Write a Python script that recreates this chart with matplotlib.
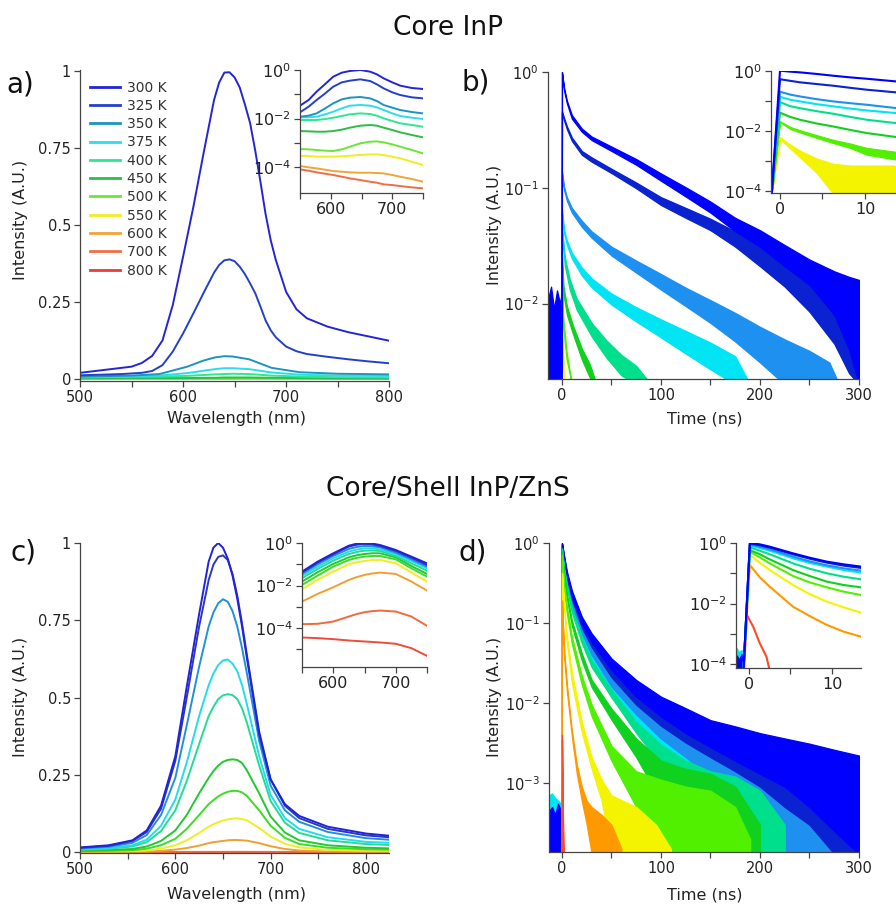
import matplotlib
matplotlib.use("Agg")
import matplotlib.pyplot as plt
from matplotlib.ticker import FixedLocator, NullFormatter, NullLocator, MultipleLocator
from matplotlib.lines import Line2D

plt.rcParams['font.family'] = ['DejaVu Sans']

# ------------------------------------------------------------------ data
temps = ['300 K', '325 K', '350 K', '375 K', '400 K', '450 K',
         '500 K', '550 K', '600 K', '700 K', '800 K']
spec_colors = ['#2424d8', '#2540c8', '#1c94c0', '#2cdcec', '#2ce890', '#2cbc48',
               '#68e834', '#eeee22', '#f2a438', '#f26c44', '#ec3a36']
decay_colors = ['#0000ff', '#0a22d0', '#1e90f0', '#00e4f4', '#00e08c', '#10d020',
                '#50f000', '#f4f400', '#ff9900', '#ff4a24', '#ff2a1a']
c_colors = ['#2222d8', '#2a36c8', '#2090dc', '#22dcec', '#22dc96', '#22c832',
            '#3cdc22', '#eeee22', '#f0a030', '#f06a3c', '#f04a3a']

# panel a, main (linear PL spectra, core InP)
wl_a = [500, 520, 540, 550, 560, 570, 580, 590, 600, 610, 620,
        630, 635, 640, 645, 650, 655, 660, 665, 670, 675, 680, 685, 690,
        700, 710, 720, 740, 760, 780, 800]
a_300 = [0.020, 0.028, 0.036, 0.040, 0.052, 0.075, 0.125, 0.240, 0.397, 0.559, 0.735,
         0.905, 0.962, 0.994, 0.995, 0.978, 0.945, 0.890, 0.830, 0.740, 0.640, 0.535, 0.450, 0.385,
         0.282, 0.226, 0.197, 0.170, 0.152, 0.138, 0.124]
a_325 = [0.012, 0.014, 0.016, 0.018, 0.020, 0.026, 0.045, 0.089, 0.148, 0.213, 0.280,
         0.345, 0.370, 0.385, 0.388, 0.382, 0.364, 0.340, 0.310, 0.278, 0.235, 0.190, 0.158, 0.135,
         0.105, 0.090, 0.081, 0.072, 0.064, 0.057, 0.051]
wl_a_low = [500, 550, 577, 604, 620, 631, 640, 648, 664, 686, 713, 750, 800]
a_350 = [0.008, 0.011, 0.016, 0.040, 0.060, 0.070, 0.074, 0.073, 0.064, 0.036, 0.022, 0.017, 0.015]
a_375 = [0.006, 0.009, 0.011, 0.019, 0.027, 0.032, 0.035, 0.035, 0.032, 0.021, 0.014, 0.011, 0.010]
a_400 = [0.005, 0.007, 0.008, 0.010, 0.013, 0.015, 0.016, 0.017, 0.016, 0.011, 0.008, 0.006, 0.005]
a_450 = [0.002, 0.003, 0.003, 0.003, 0.004, 0.004, 0.005, 0.005, 0.005, 0.004, 0.003, 0.002, 0.0015]
a_500 = [0.0006, 0.0006, 0.0005, 0.0005, 0.0006, 0.0007, 0.0008, 0.0009, 0.0011, 0.0010, 0.0007, 0.0004, 0.0003]
a_550 = [0.0003, 0.0003, 0.0003, 0.0003, 0.0003, 0.0003, 0.0003, 0.0003, 0.0003, 0.0003, 0.0002, 0.0001, 0.0001]
a_600 = [0.0001, 0.0001, 0.0001, 0.0001, 0.0001, 0.0001, 0.0001, 0.0001, 0.0001, 0.0001, 0.00004, 0.00003, 0.00002]
a_700 = [0.0001, 0.00008, 0.00006, 0.00005, 0.00004, 0.00004, 0.00003, 0.00003, 0.00003, 0.00002, 0.00002, 0.00001, 0.00001]
a_800 = [0.00008, 0.00006, 0.00005, 0.00004, 0.00003, 0.00003, 0.00003, 0.00002, 0.00002, 0.00002, 0.00001, 0.00001, 0.00001]

# panel a, inset (log)
wl_ai = [550, 564, 577, 591, 604, 618, 631, 648, 664, 675, 686, 700, 713, 732, 750]
ai_300 = [0.0338, 0.058, 0.128, 0.265, 0.531, 0.776, 0.910, 1.0, 0.854, 0.663, 0.453, 0.310, 0.226, 0.181, 0.165]
ai_325 = [0.0180, 0.0308, 0.058, 0.109, 0.205, 0.310, 0.363, 0.412, 0.352, 0.256, 0.175, 0.120, 0.093, 0.0746, 0.0679]
ai_350 = [0.0119, 0.0131, 0.0163, 0.0262, 0.0422, 0.0617, 0.0723, 0.077, 0.0679, 0.0527, 0.036, 0.028, 0.0224, 0.0185, 0.0163]
ai_375 = [0.0112, 0.0112, 0.0119, 0.0149, 0.0191, 0.0262, 0.0338, 0.036, 0.0338, 0.0289, 0.0224, 0.0163, 0.0127, 0.0108, 0.00953]
ai_400 = [0.00867, 0.00867, 0.00867, 0.00953, 0.0108, 0.0127, 0.0149, 0.0163, 0.0153, 0.0131, 0.0102, 0.00789, 0.00632, 0.0054, 0.0046]
ai_450 = [0.00305, 0.00296, 0.00286, 0.00286, 0.00305, 0.00347, 0.00419, 0.00506, 0.0054, 0.00506, 0.00419, 0.00336, 0.00269, 0.00209, 0.00167]
ai_500 = [0.000552, 0.000536, 0.000502, 0.000472, 0.000457, 0.000536, 0.000689, 0.000946, 0.00111, 0.00114, 0.00104, 0.000861, 0.000689, 0.000502, 0.000366]
ai_550 = [0.000293, 0.000284, 0.000267, 0.000267, 0.000267, 0.000275, 0.000293, 0.000313, 0.000333, 0.000333, 0.000313, 0.000267, 0.000228, 0.000166, 0.000121]
ai_600 = [0.00011, 9.68e-5, 8.8e-5, 7.76e-5, 6.84e-5, 6.43e-5, 6.03e-5, 5.83e-5, 5.83e-5, 5.66e-5, 5.48e-5, 4.68e-5, 3.99e-5, 3.2e-5, 2.48e-5]
ai_700 = [8.0e-5, 7.06e-5, 6.03e-5, 5.31e-5, 4.68e-5, 3.99e-5, 3.41e-5, 2.91e-5, 2.48e-5, 2.26e-5, 1.93e-5, 1.81e-5, 1.64e-5, 1.45e-5, 1.32e-5]

# panel b, main (decays: upper / lower edge of the noisy trace)
tb_300 = [-0.3, 0, 2, 5, 10, 20, 30, 50, 75, 100, 125, 150, 175, 200, 225, 250, 275, 290, 300]
b_300_hi = [0.002, 1.0, 0.74, 0.565, 0.425, 0.325, 0.277, 0.227, 0.177, 0.133, 0.101, 0.076, 0.055, 0.043, 0.032, 0.024, 0.019, 0.017, 0.016]
b_300_lo = [0.002, 1.0, 0.70, 0.535, 0.395, 0.305, 0.258, 0.208, 0.158, 0.115, 0.084, 0.061, 0.042, 0.031, 0.021, 0.0145, 0.008, 0.004, 0.002]
tb_325 = [-0.3, 0, 2, 5, 10, 20, 30, 50, 75, 100, 125, 150, 175, 200, 225, 250, 275, 290, 300]
b_325_hi = [0.002, 0.46, 0.405, 0.34, 0.272, 0.208, 0.183, 0.146, 0.111, 0.083, 0.067, 0.054, 0.042, 0.031, 0.022, 0.015, 0.010, 0.008, 0.007]
b_325_lo = [0.002, 0.44, 0.385, 0.32, 0.254, 0.193, 0.168, 0.134, 0.099, 0.071, 0.055, 0.043, 0.031, 0.021, 0.014, 0.0085, 0.0045, 0.0025, 0.002]
tb_350 = [-0.3, 0, 2, 5, 10, 20, 30, 50, 75, 100, 125, 150, 175, 200, 225, 250, 270, 280]
b_350_hi = [0.002, 0.14, 0.103, 0.083, 0.067, 0.052, 0.042, 0.031, 0.0235, 0.018, 0.0137, 0.0107, 0.0083, 0.0063, 0.0049, 0.0039, 0.0031, 0.002]
b_350_lo = [0.002, 0.13, 0.097, 0.077, 0.061, 0.046, 0.037, 0.026, 0.0185, 0.0132, 0.0095, 0.0068, 0.0047, 0.0031, 0.002, 0.002, 0.002, 0.002]
tb_375 = [-0.3, 0, 2, 5, 10, 20, 30, 50, 75, 100, 125, 150, 175, 190]
b_375_hi = [0.002, 0.065, 0.044, 0.035, 0.0275, 0.0205, 0.0165, 0.0122, 0.0093, 0.0073, 0.0058, 0.0046, 0.0035, 0.002]
b_375_lo = [0.002, 0.06, 0.041, 0.032, 0.0245, 0.0175, 0.0138, 0.0098, 0.007, 0.0051, 0.0037, 0.0027, 0.002, 0.002]
tb_400 = [-0.3, 0, 3, 8, 15, 30, 45, 60, 75, 90]
b_400_hi = [0.002, 0.045, 0.025, 0.016, 0.011, 0.0068, 0.0048, 0.0036, 0.0029, 0.002]
b_400_lo = [0.002, 0.04, 0.021, 0.013, 0.0088, 0.0052, 0.0034, 0.0024, 0.002, 0.002]
tb_450 = [-0.3, 0, 1.5, 5, 11, 20, 28, 35]
b_450_hi = [0.002, 0.026, 0.014, 0.0095, 0.0065, 0.0041, 0.003, 0.002]
b_450_lo = [0.002, 0.022, 0.012, 0.008, 0.0055, 0.0033, 0.0023, 0.002]
tb_500 = [-0.3, 0, 1, 4.7, 10]
b_500_hi = [0.002, 0.016, 0.008, 0.0038, 0.002]
b_500_lo = [0.002, 0.014, 0.0065, 0.0033, 0.002]
tb_550 = [-0.3, 0, 1, 2.5]
b_550_hi = [0.002, 0.006, 0.004, 0.002]
b_550_lo = [0.002, 0.005, 0.0035, 0.002]
tb_pre = [-14, -11, -8, -5, -2, -0.5]
b_pre_hi = [0.011, 0.014, 0.009, 0.013, 0.010, 0.012]
b_pre_lo = [0.002, 0.002, 0.002, 0.002, 0.002, 0.002]

# panel b, inset
tbi = [-0.98, 0, 1.2, 2.35, 4.3, 6.27, 8.24, 10.2, 13.65]
bi_300 = [8e-5, 1.0, 0.93, 0.88, 0.78, 0.68, 0.6, 0.54, 0.44]
bi_325 = [8e-5, 0.52, 0.46, 0.41, 0.36, 0.316, 0.27, 0.233, 0.19]
bi_350 = [8e-5, 0.2, 0.16, 0.139, 0.113, 0.095, 0.083, 0.0736, 0.057]
bi_375 = [8e-5, 0.135, 0.108, 0.095, 0.077, 0.065, 0.055, 0.0476, 0.0388]
bi_400 = [8e-5, 0.09, 0.066, 0.0565, 0.045, 0.0369, 0.029, 0.0233, 0.018]
bi_450 = [8e-5, 0.04, 0.029, 0.0233, 0.0175, 0.0139, 0.0107, 0.0084, 0.0062]
bi_500_hi = [8e-5, 0.021, 0.0135, 0.0105, 0.0072, 0.005, 0.0038, 0.0027, 0.002]
bi_500_lo = [8e-5, 0.0195, 0.0115, 0.0088, 0.0058, 0.0039, 0.0027, 0.0016, 0.0011]
bi_550_hi = [8e-5, 0.0062, 0.0035, 0.0022, 0.0012, 0.0008, 0.0007, 0.0007, 0.0007]
bi_550_lo = [8e-5, 0.0052, 0.0026, 0.0013, 0.0004, 8e-5, 8e-5, 8e-5, 8e-5]

# panel c, main (core/shell spectra)
wl_c = [500, 530, 555, 570, 585, 600, 612, 625,
        635, 640, 645, 650, 655, 660, 665, 670, 675,
        688, 700, 715, 730, 760, 800, 824]
c_300 = [0.015, 0.022, 0.038, 0.07, 0.15, 0.31, 0.535, 0.77, 0.94, 0.985, 1.0, 0.985, 0.95, 0.895, 0.82, 0.73, 0.63, 0.38, 0.235, 0.155, 0.117, 0.082, 0.06, 0.053]
c_325 = [0.014, 0.02, 0.036, 0.065, 0.14, 0.295, 0.50, 0.73, 0.88, 0.93, 0.955, 0.96, 0.945, 0.90, 0.83, 0.74, 0.64, 0.39, 0.235, 0.15, 0.11, 0.075, 0.054, 0.048]
c_350 = [0.012, 0.017, 0.03, 0.055, 0.12, 0.24, 0.41, 0.6, 0.73, 0.775, 0.805, 0.818, 0.81, 0.78, 0.73, 0.66, 0.58, 0.36, 0.215, 0.135, 0.098, 0.065, 0.045, 0.04]
c_375 = [0.01, 0.013, 0.022, 0.04, 0.085, 0.17, 0.29, 0.44, 0.54, 0.578, 0.605, 0.62, 0.623, 0.61, 0.585, 0.54, 0.48, 0.31, 0.185, 0.11, 0.075, 0.048, 0.033, 0.03]
c_400 = [0.008, 0.011, 0.018, 0.032, 0.068, 0.135, 0.23, 0.35, 0.44, 0.47, 0.495, 0.507, 0.511, 0.508, 0.495, 0.465, 0.42, 0.28, 0.165, 0.095, 0.062, 0.038, 0.026, 0.023]
c_450 = [0.005, 0.007, 0.01, 0.018, 0.036, 0.07, 0.12, 0.19, 0.24, 0.262, 0.28, 0.292, 0.298, 0.3, 0.298, 0.288, 0.265, 0.19, 0.115, 0.063, 0.038, 0.022, 0.014, 0.012]
c_500 = [0.003, 0.004, 0.006, 0.011, 0.022, 0.043, 0.075, 0.12, 0.155, 0.168, 0.18, 0.189, 0.195, 0.198, 0.198, 0.193, 0.182, 0.135, 0.085, 0.046, 0.026, 0.014, 0.009, 0.008]
c_550 = [0.002, 0.002, 0.003, 0.005, 0.011, 0.022, 0.038, 0.062, 0.082, 0.09, 0.097, 0.102, 0.106, 0.108, 0.109, 0.107, 0.103, 0.078, 0.05, 0.027, 0.015, 0.007, 0.004, 0.004]
c_600 = [0.001, 0.001, 0.001, 0.002, 0.004, 0.008, 0.013, 0.021, 0.029, 0.032, 0.034, 0.036, 0.038, 0.039, 0.039, 0.038, 0.037, 0.029, 0.019, 0.01, 0.005, 0.002, 0.001, 0.001]
c_700 = [0.0002, 0.0002, 0.0002, 0.0002, 0.0003, 0.0004, 0.0005, 0.0005, 0.0006, 0.0006, 0.0006, 0.0006, 0.0007, 0.0007, 0.0007, 0.0007, 0.0007, 0.0006, 0.0005, 0.0004, 0.0003, 0.0002, 0.0001, 0.0001]
c_800 = [0.00004, 0.00004, 0.00004, 0.00003, 0.00003, 0.00003, 0.00003, 0.00003, 0.00002, 0.00002, 0.00002, 0.00002, 0.00002, 0.00002, 0.00002, 0.00002, 0.00002, 0.00002, 0.00002, 0.00002, 0.00002, 0.00001, 0.00001, 0.00001]

# panel c, inset
wl_ci = [550, 575, 600, 625, 637.5, 650, 662.5, 675, 700, 725, 750]
ci_300 = [0.0453, 0.133, 0.328, 0.75, 0.93, 1.0, 0.94, 0.805, 0.47, 0.229, 0.111]
ci_325 = [0.041, 0.12, 0.295, 0.676, 0.83, 0.90, 0.85, 0.724, 0.42, 0.204, 0.093]
ci_350 = [0.0352, 0.1, 0.246, 0.524, 0.65, 0.723, 0.70, 0.627, 0.352, 0.171, 0.0778]
ci_375 = [0.0284, 0.0778, 0.191, 0.393, 0.49, 0.562, 0.55, 0.505, 0.294, 0.143, 0.0649]
ci_400 = [0.0221, 0.0604, 0.1486, 0.305, 0.38, 0.4375, 0.445, 0.4217, 0.246, 0.111, 0.0505]
ci_450 = [0.0154, 0.0422, 0.1038, 0.213, 0.265, 0.305, 0.33, 0.328, 0.213, 0.0835, 0.0352]
ci_500 = [0.0107, 0.0294, 0.0778, 0.16, 0.20, 0.229, 0.245, 0.246, 0.171, 0.0649, 0.0264]
ci_550 = [0.00673, 0.01845, 0.0453, 0.1, 0.125, 0.143, 0.157, 0.16, 0.111, 0.0407, 0.0154]
ci_600 = [0.00178, 0.00406, 0.00835, 0.01845, 0.025, 0.0316, 0.037, 0.0407, 0.0352, 0.0154, 0.00583]
ci_700 = [1.54e-4, 1.6e-4, 2.05e-4, 3.52e-4, 4.6e-4, 5.62e-4, 6.3e-4, 6.73e-4, 6.04e-4, 3.52e-4, 1.29e-4]
ci_800 = [3.65e-5, 3.4e-5, 3.05e-5, 2.64e-5, 2.5e-5, 2.37e-5, 2.25e-5, 2.13e-5, 1.85e-5, 1.15e-5, 5.0e-6]

# panel d, main (core/shell decays)
td_300 = [-0.3, 0, 2, 5, 10, 20, 30, 50, 75, 100, 125, 150, 175, 200, 225, 250, 275, 300]
d_300_hi = [1.3e-4, 1.0, 0.71, 0.44, 0.254, 0.12, 0.074, 0.036, 0.0194, 0.012, 0.0086, 0.0061, 0.0051, 0.0042, 0.0036, 0.0031, 0.0026, 0.0022]
d_300_lo = [1.3e-4, 1.0, 0.64, 0.39, 0.218, 0.099, 0.058, 0.026, 0.012, 0.0068, 0.0042, 0.0028, 0.0019, 0.0013, 0.0009, 0.0005, 0.00025, 1.3e-4]
td_325 = [-0.3, 0, 2, 5, 10, 20, 30, 50, 75, 100, 125, 150, 175, 200, 225, 250, 275, 300]
d_325_hi = [1.3e-4, 0.98, 0.68, 0.41, 0.235, 0.106, 0.064, 0.030, 0.0155, 0.0095, 0.0068, 0.005, 0.004, 0.0033, 0.0028, 0.0025, 0.0022, 0.002]
d_325_lo = [1.3e-4, 0.98, 0.62, 0.36, 0.2, 0.088, 0.05, 0.021, 0.0095, 0.0052, 0.0032, 0.0021, 0.0014, 0.0009, 0.0005, 0.0003, 1.3e-4, 1.3e-4]
td_350 = [-0.3, 0, 2, 5, 10, 20, 30, 50, 75, 100, 125, 150, 175, 200, 225, 250, 275, 300]
d_350_hi = [1.3e-4, 0.95, 0.62, 0.37, 0.2, 0.09, 0.05, 0.021, 0.0105, 0.0062, 0.0042, 0.0031, 0.0025, 0.002, 0.0017, 0.0015, 0.0013, 0.0012]
d_350_lo = [1.3e-4, 0.95, 0.57, 0.33, 0.17, 0.075, 0.04, 0.016, 0.0072, 0.0036, 0.0021, 0.0012, 0.0006, 1.3e-4, 1.3e-4, 1.3e-4, 1.3e-4, 1.3e-4]
td_375 = [-0.3, 0, 2, 5, 10, 20, 30, 50, 75, 100, 125, 150, 175, 200, 225, 250, 275, 300]
d_375_hi = [1.3e-4, 0.9, 0.58, 0.34, 0.18, 0.075, 0.04, 0.0155, 0.0075, 0.0042, 0.0028, 0.002, 0.0016, 0.0014, 0.0012, 0.0011, 0.001, 0.0009]
d_375_lo = [1.3e-4, 0.9, 0.53, 0.3, 0.155, 0.063, 0.032, 0.0118, 0.005, 0.0024, 0.0012, 0.0005, 1.3e-4, 1.3e-4, 1.3e-4, 1.3e-4, 1.3e-4, 1.3e-4]
td_400 = [-0.3, 0, 2, 5, 10, 20, 30, 50, 75, 100, 125, 150, 175, 200, 225]
d_400_hi = [1.3e-4, 0.85, 0.5, 0.3, 0.155, 0.066, 0.034, 0.0145, 0.0058, 0.003, 0.0019, 0.0014, 0.0012, 0.0008, 0.0003]
d_400_lo = [1.3e-4, 0.85, 0.46, 0.27, 0.135, 0.056, 0.028, 0.0118, 0.0042, 0.0017, 0.0007, 1.3e-4, 1.3e-4, 1.3e-4, 1.3e-4]
td_450 = [-0.3, 0, 2, 5, 10, 20, 30, 50, 75, 100, 125, 150, 175, 200]
d_450_hi = [1.3e-4, 0.8, 0.42, 0.23, 0.108, 0.042, 0.0195, 0.0085, 0.0036, 0.0019, 0.0015, 0.0013, 0.0009, 0.0003]
d_450_lo = [1.3e-4, 0.8, 0.38, 0.2, 0.092, 0.034, 0.0158, 0.0062, 0.0021, 0.0006, 1.3e-4, 1.3e-4, 1.3e-4, 1.3e-4]
td_500 = [-0.3, 0, 2, 5, 10, 20, 30, 50, 75, 100, 125, 150, 175, 190]
d_500_hi = [1.3e-4, 0.7, 0.3, 0.16, 0.068, 0.022, 0.0095, 0.0029, 0.0014, 0.0011, 0.0009, 0.0008, 0.0005, 0.0002]
d_500_lo = [1.3e-4, 0.7, 0.27, 0.13, 0.055, 0.017, 0.0068, 0.0019, 0.0005, 1.3e-4, 1.3e-4, 1.3e-4, 1.3e-4, 1.3e-4]
td_550 = [-0.3, 0, 2, 5, 10, 20, 30, 40, 50, 75, 95, 110]
d_550_hi = [1.3e-4, 0.42, 0.19, 0.068, 0.024, 0.0058, 0.0021, 0.0011, 0.0007, 0.0005, 0.0003, 0.00015]
d_550_lo = [1.3e-4, 0.42, 0.16, 0.055, 0.018, 0.0043, 0.0015, 0.0006, 1.3e-4, 1.3e-4, 1.3e-4, 1.3e-4]
td_600 = [-0.3, 0, 2, 5, 10, 15, 20, 25, 30, 40, 50, 60]
d_600_hi = [1.3e-4, 0.19, 0.05, 0.017, 0.0045, 0.0017, 0.0009, 0.0006, 0.0005, 0.0004, 0.0003, 0.00015]
d_600_lo = [1.3e-4, 0.19, 0.04, 0.014, 0.0038, 0.0013, 0.0006, 0.0003, 1.3e-4, 1.3e-4, 1.3e-4, 1.3e-4]
td_700 = [-0.3, 0, 0.7, 1.5]
d_700_hi = [1.3e-4, 0.004, 0.0007, 1.3e-4]
d_700_lo = [1.3e-4, 0.0035, 0.0005, 1.3e-4]
td_pre = [-13, -10, -7, -4, -1, -0.4]
d_pre_hi = [4.5e-4, 5e-4, 4e-4, 5.5e-4, 4.5e-4, 5e-4]
d_pre_cyan_hi = [7e-4, 7.4e-4, 6.5e-4, 6e-4, 5.5e-4, 5e-4]
d_pre_lo = [1.3e-4, 1.3e-4, 1.3e-4, 1.3e-4, 1.3e-4, 1.3e-4]

# panel d, inset
tdi = [-0.65, 0.1, 1.3, 2.5, 5.3, 7.3, 9.4, 11.4, 13.5]
di_300 = [7.5e-5, 1.0, 0.904, 0.757, 0.456, 0.328, 0.242, 0.198, 0.166]
di_325 = [7.5e-5, 0.975, 0.838, 0.702, 0.423, 0.304, 0.224, 0.179, 0.15]
di_350 = [7.5e-5, 0.904, 0.757, 0.618, 0.354, 0.248, 0.183, 0.146, 0.122]
di_375 = [7.5e-5, 0.817, 0.684, 0.558, 0.312, 0.219, 0.166, 0.128, 0.105]
di_400 = [7.5e-5, 0.72, 0.558, 0.423, 0.213, 0.142, 0.0998, 0.0774, 0.0632]
di_450 = [7.5e-5, 0.587, 0.423, 0.289, 0.128, 0.0815, 0.053, 0.0411, 0.0344]
di_500 = [7.5e-5, 0.518, 0.337, 0.213, 0.0815, 0.0503, 0.0344, 0.0248, 0.0192]
di_550 = [7.5e-5, 0.402, 0.224, 0.128, 0.0411, 0.0207, 0.0116, 0.00753, 0.00502]
di_600 = [7.5e-5, 0.188, 0.0736, 0.0362, 0.00792, 0.0039, 0.00197, 0.00119, 0.00081]
tdi_700 = [-0.6, -0.25, 0.5, 1.3, 2.1, 2.5]
di_700 = [7.5e-5, 0.0042, 0.00173, 0.00049, 0.000178, 6e-5]
tdi_pre = [-1.5, -1.2, -0.9, -0.7]
di_pre_cyan = [3.5e-4, 2.5e-4, 3e-4, 2e-4]
di_pre_blue = [2e-4, 1.5e-4, 2.2e-4, 1.5e-4]
di_pre_lo = [7e-5, 7e-5, 7e-5, 7e-5]

# ------------------------------------------------------------------ figure
W, H = 896, 907
fig = plt.figure(figsize=(W / 100, H / 100), dpi=100)
AX = '#444444'


def add_ax(x0, x1, ytop, ybot, lsize=10.5):
    ax = fig.add_axes([x0 / W, 1 - ybot / H, (x1 - x0) / W, (ybot - ytop) / H])
    ax.patch.set_alpha(0)
    for s in ('top', 'right'):
        ax.spines[s].set_visible(False)
    for s in ('left', 'bottom'):
        ax.spines[s].set_color(AX)
        ax.spines[s].set_linewidth(0.9)
    ax.tick_params(which='both', direction='out', length=4.5, width=0.9,
                   color=AX, labelcolor='#222222', labelsize=lsize, pad=2)
    return ax


def log_ticks(ax, major, minor):
    ax.yaxis.set_major_locator(FixedLocator(major))
    if minor:
        ax.yaxis.set_minor_locator(FixedLocator(minor))
    else:
        ax.yaxis.set_minor_locator(NullLocator())
    ax.yaxis.set_minor_formatter(NullFormatter())


def band(ax, t, hi, lo, c, lw=0.9):
    ax.fill_between(t, lo, hi, facecolor=c, edgecolor=c, linewidth=lw)


# ---- panel a
ax_a = add_ax(80, 389.3, 70.1, 381)
a_series = [(wl_a, a_300), (wl_a, a_325), (wl_a_low, a_350), (wl_a_low, a_375),
            (wl_a_low, a_400), (wl_a_low, a_450), (wl_a_low, a_500), (wl_a_low, a_550),
            (wl_a_low, a_600), (wl_a_low, a_700), (wl_a_low, a_800)]
for i in reversed(range(len(a_series))):
    x, y = a_series[i]
    ax_a.plot(x, y, color=spec_colors[i], lw=1.4, solid_joinstyle='round')
ax_a.set_xlim(500, 800)
ax_a.set_ylim(-0.0065, 1.002)
ax_a.set_xticks([500, 600, 700, 800])
ax_a.xaxis.set_minor_locator(MultipleLocator(50))
ax_a.set_yticks([0, 0.25, 0.5, 0.75, 1])
ax_a.set_yticklabels(['0', '0.25', '0.5', '0.75', '1'])
handles = [Line2D([], [], color=c, lw=2) for c in spec_colors]
leg = ax_a.legend(handles, temps, loc='upper left', bbox_to_anchor=(90 / W, 1 - 80.5 / H),
                  bbox_transform=fig.transFigure, frameon=False, fontsize=10,
                  handlelength=2.15, handletextpad=0.5, labelspacing=0.31,
                  borderpad=0, borderaxespad=0)
for t in leg.get_texts():
    t.set_color('#333333')

ax_ai = add_ax(300, 423, 70, 193, lsize=11.5)
ax_ai.set_yscale('log')
ai_series = [ai_300, ai_325, ai_350, ai_375, ai_400, ai_450, ai_500, ai_550, ai_600, ai_700]
for i in reversed(range(len(ai_series))):
    ax_ai.plot(wl_ai, ai_series[i], color=spec_colors[i], lw=1.4, solid_joinstyle='round')
ax_ai.set_xlim(550, 750)
ax_ai.set_ylim(8.5e-6, 1.0)
ax_ai.set_xticks([600, 700])
ax_ai.xaxis.set_minor_locator(FixedLocator([550, 650, 750]))
log_ticks(ax_ai, [1, 1e-2, 1e-4], [1e-1, 1e-3])

# ---- panel b
ax_b = add_ax(548, 859, 72, 379)
ax_b.set_yscale('log')
band(ax_b, tb_pre, b_pre_hi, b_pre_lo, decay_colors[0])
b_series = [(tb_300, b_300_hi, b_300_lo), (tb_325, b_325_hi, b_325_lo),
            (tb_350, b_350_hi, b_350_lo), (tb_375, b_375_hi, b_375_lo),
            (tb_400, b_400_hi, b_400_lo), (tb_450, b_450_hi, b_450_lo),
            (tb_500, b_500_hi, b_500_lo), (tb_550, b_550_hi, b_550_lo)]
for i in reversed(range(len(b_series))):
    t, hi, lo = b_series[i]
    band(ax_b, t, hi, lo, decay_colors[i])
ax_b.set_xlim(-14.1, 300)
ax_b.set_ylim(2.23e-3, 1.0)
ax_b.set_xticks([0, 100, 200, 300])
ax_b.xaxis.set_minor_locator(MultipleLocator(50))
log_ticks(ax_b, [1, 1e-1, 1e-2], None)

ax_bi = add_ax(771, 896, 70.7, 193.3, lsize=11.5)
ax_bi.set_yscale('log')
band(ax_bi, tbi, bi_550_hi, bi_550_lo, decay_colors[7], lw=0.8)
band(ax_bi, tbi, bi_500_hi, bi_500_lo, decay_colors[6], lw=0.8)
bi_series = [bi_300, bi_325, bi_350, bi_375, bi_400, bi_450]
for i in reversed(range(len(bi_series))):
    ax_bi.plot(tbi, bi_series[i], color=decay_colors[i], lw=1.5)
ax_bi.set_xlim(-1.06, 13.65)
ax_bi.set_ylim(8.3e-5, 1.0)
ax_bi.set_xticks([0, 10])
ax_bi.xaxis.set_minor_locator(FixedLocator([5]))
log_ticks(ax_bi, [1, 1e-2, 1e-4], [1e-1, 1e-3])

# ---- panel c
ax_c = add_ax(80, 388.8, 543, 853)
c_series = [c_300, c_325, c_350, c_375, c_400, c_450, c_500, c_550, c_600, c_700, c_800]
for i in reversed(range(len(c_series))):
    ax_c.plot(wl_c, c_series[i], color=c_colors[i], lw=1.4, solid_joinstyle='round')
ax_c.set_xlim(500, 824)
ax_c.set_ylim(-0.003, 1.0)
ax_c.set_xticks([500, 600, 700, 800])
ax_c.xaxis.set_minor_locator(MultipleLocator(50))
ax_c.set_yticks([0, 0.25, 0.5, 0.75, 1])
ax_c.set_yticklabels(['0', '0.25', '0.5', '0.75', '1'])

ax_ci = add_ax(302, 427, 543, 667, lsize=11.5)
ax_ci.set_yscale('log')
ci_series = [ci_300, ci_325, ci_350, ci_375, ci_400, ci_450, ci_500, ci_550, ci_600, ci_700, ci_800]
for i in reversed(range(len(ci_series))):
    ax_ci.plot(wl_ci, ci_series[i], color=c_colors[i], lw=1.4, solid_joinstyle='round')
ax_ci.set_xlim(550, 750)
ax_ci.set_ylim(1.5e-6, 1.0)
ax_ci.set_xticks([600, 700])
ax_ci.xaxis.set_minor_locator(FixedLocator([550, 650, 750]))
log_ticks(ax_ci, [1, 1e-2, 1e-4], [1e-1, 1e-3, 1e-5])

# ---- panel d
ax_d = add_ax(549, 859, 543, 852)
ax_d.set_yscale('log')
band(ax_d, td_pre, d_pre_cyan_hi, d_pre_lo, decay_colors[3])
band(ax_d, td_pre, d_pre_hi, d_pre_lo, decay_colors[0])
d_series = [(td_300, d_300_hi, d_300_lo), (td_325, d_325_hi, d_325_lo),
            (td_350, d_350_hi, d_350_lo), (td_375, d_375_hi, d_375_lo),
            (td_400, d_400_hi, d_400_lo), (td_450, d_450_hi, d_450_lo),
            (td_500, d_500_hi, d_500_lo), (td_550, d_550_hi, d_550_lo),
            (td_600, d_600_hi, d_600_lo), (td_700, d_700_hi, d_700_lo)]
# the blue-to-cyan traces are stacked with 300 K on top; the hotter traces lie over them
d_order = [3, 2, 1, 0, 4, 5, 6, 7, 8, 9]
for i in d_order:
    t, hi, lo = d_series[i]
    band(ax_d, t, hi, lo, decay_colors[i])
ax_d.set_xlim(-13.1, 300)
ax_d.set_ylim(1.37e-4, 1.0)
ax_d.set_xticks([0, 100, 200, 300])
ax_d.xaxis.set_minor_locator(MultipleLocator(50))
log_ticks(ax_d, [1, 1e-1, 1e-2, 1e-3], None)

ax_di = add_ax(736, 861, 543, 668, lsize=11.5)
ax_di.set_yscale('log')
band(ax_di, tdi_pre, di_pre_cyan, di_pre_lo, decay_colors[3], lw=0.6)
band(ax_di, tdi_pre, di_pre_blue, di_pre_lo, decay_colors[0], lw=0.6)
ax_di.plot(tdi_700, di_700, color=decay_colors[9], lw=1.5)
di_series = [di_300, di_325, di_350, di_375, di_400, di_450, di_500, di_550, di_600]
for i in reversed(range(len(di_series))):
    ax_di.plot(tdi, di_series[i], color=decay_colors[i], lw=1.5)
ax_di.set_xlim(-1.57, 13.5)
ax_di.set_ylim(7.5e-5, 1.0)
ax_di.set_xticks([0, 10])
ax_di.xaxis.set_minor_locator(FixedLocator([5]))
log_ticks(ax_di, [1, 1e-2, 1e-4], [1e-1, 1e-3])


# ---- texts
def ftext(x, y, s, **kw):
    fig.text(x / W, 1 - y / H, s, **kw)


ftext(448, 28, 'Core InP', fontsize=19, ha='center', va='center', color='#111111')
ftext(448, 489, 'Core/Shell InP/ZnS', fontsize=19, ha='center', va='center', color='#111111')
for lab, x, y in [('a)', 6, 85), ('b)', 461, 82), ('c)', 10, 553), ('d)', 458, 552)]:
    ftext(x, y, lab, fontsize=20, ha='left', va='center', color='#111111')
for x, y in [(21, 220), (495, 225), (20, 697), (495, 697)]:
    ftext(x, y, 'Intensity (A.U.)', fontsize=11.5, rotation=90, ha='center', va='center', color='#222222')
ftext(236, 419, 'Wavelength (nm)', fontsize=11.5, ha='center', va='center', color='#222222')
ftext(236, 894, 'Wavelength (nm)', fontsize=11.5, ha='center', va='center', color='#222222')
ftext(705, 419, 'Time (ns)', fontsize=11.5, ha='center', va='center', color='#222222')
ftext(705, 895, 'Time (ns)', fontsize=11.5, ha='center', va='center', color='#222222')

fig.savefig('out.png', dpi=100)
